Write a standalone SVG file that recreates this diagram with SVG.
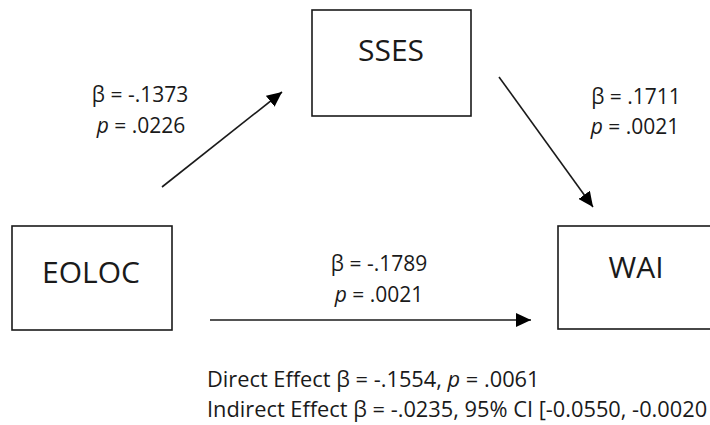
<svg xmlns="http://www.w3.org/2000/svg" width="710" height="425" viewBox="0 0 710 425">
<defs>
<marker id="ah" markerWidth="16" markerHeight="14" refX="15" refY="7" orient="auto" markerUnits="userSpaceOnUse">
<path d="M0,0 L15,7 L0,14 Z" fill="#000"/>
</marker>
<style>
.box{fill:#fff;stroke:#1a1a1a;stroke-width:1.6}
.name{font-family:"Open Sans",sans-serif;font-size:30px;fill:#1a1a1a;text-anchor:middle}
.lbl{font-family:"Open Sans",sans-serif;font-size:21px;fill:#1a1a1a;text-anchor:middle}
.note{font-family:"Open Sans",sans-serif;font-size:21.8px;fill:#1a1a1a}
.conn{stroke:#1a1a1a;stroke-width:1.6;fill:none;marker-end:url(#ah)}
.it{font-style:italic}
</style>
</defs>
<rect width="710" height="425" fill="#fff"/>
<g id="connectors">
<line class="conn" x1="162" y1="187" x2="282" y2="92"/>
<line class="conn" x1="499" y1="77" x2="593" y2="207"/>
<line class="conn" x1="210" y1="320" x2="531" y2="320"/>
</g>
<g id="sses">
<rect class="box" x="312" y="10" width="159" height="106"/>
<text class="name" x="391" y="61">SSES</text>
</g>
<g id="eoloc">
<rect class="box" x="12" y="226" width="160" height="104"/>
<text class="name" x="91" y="283">EOLOC</text>
</g>
<g id="wai">
<rect class="box" x="558" y="226" width="200" height="103"/>
<text class="name" x="636" y="278">WAI</text>
</g>
<g id="labels">
<text class="lbl" x="140" y="102">β = -.1373</text>
<text class="lbl" x="141" y="133"><tspan class="it">p</tspan> = .0226</text>
<text class="lbl" x="636" y="104">β = .1711</text>
<text class="lbl" x="635" y="134"><tspan class="it">p</tspan> = .0021</text>
<text class="lbl" x="379" y="271">β = -.1789</text>
<text class="lbl" x="379" y="302"><tspan class="it">p</tspan> = .0021</text>
<text class="note" x="207" y="387">Direct Effect β = -.1554, <tspan class="it">p</tspan> = .0061</text>
<text class="note" x="207" y="417">Indirect Effect β = -.0235, 95% CI [-0.0550, -0.0020</text>
</g>
</svg>
